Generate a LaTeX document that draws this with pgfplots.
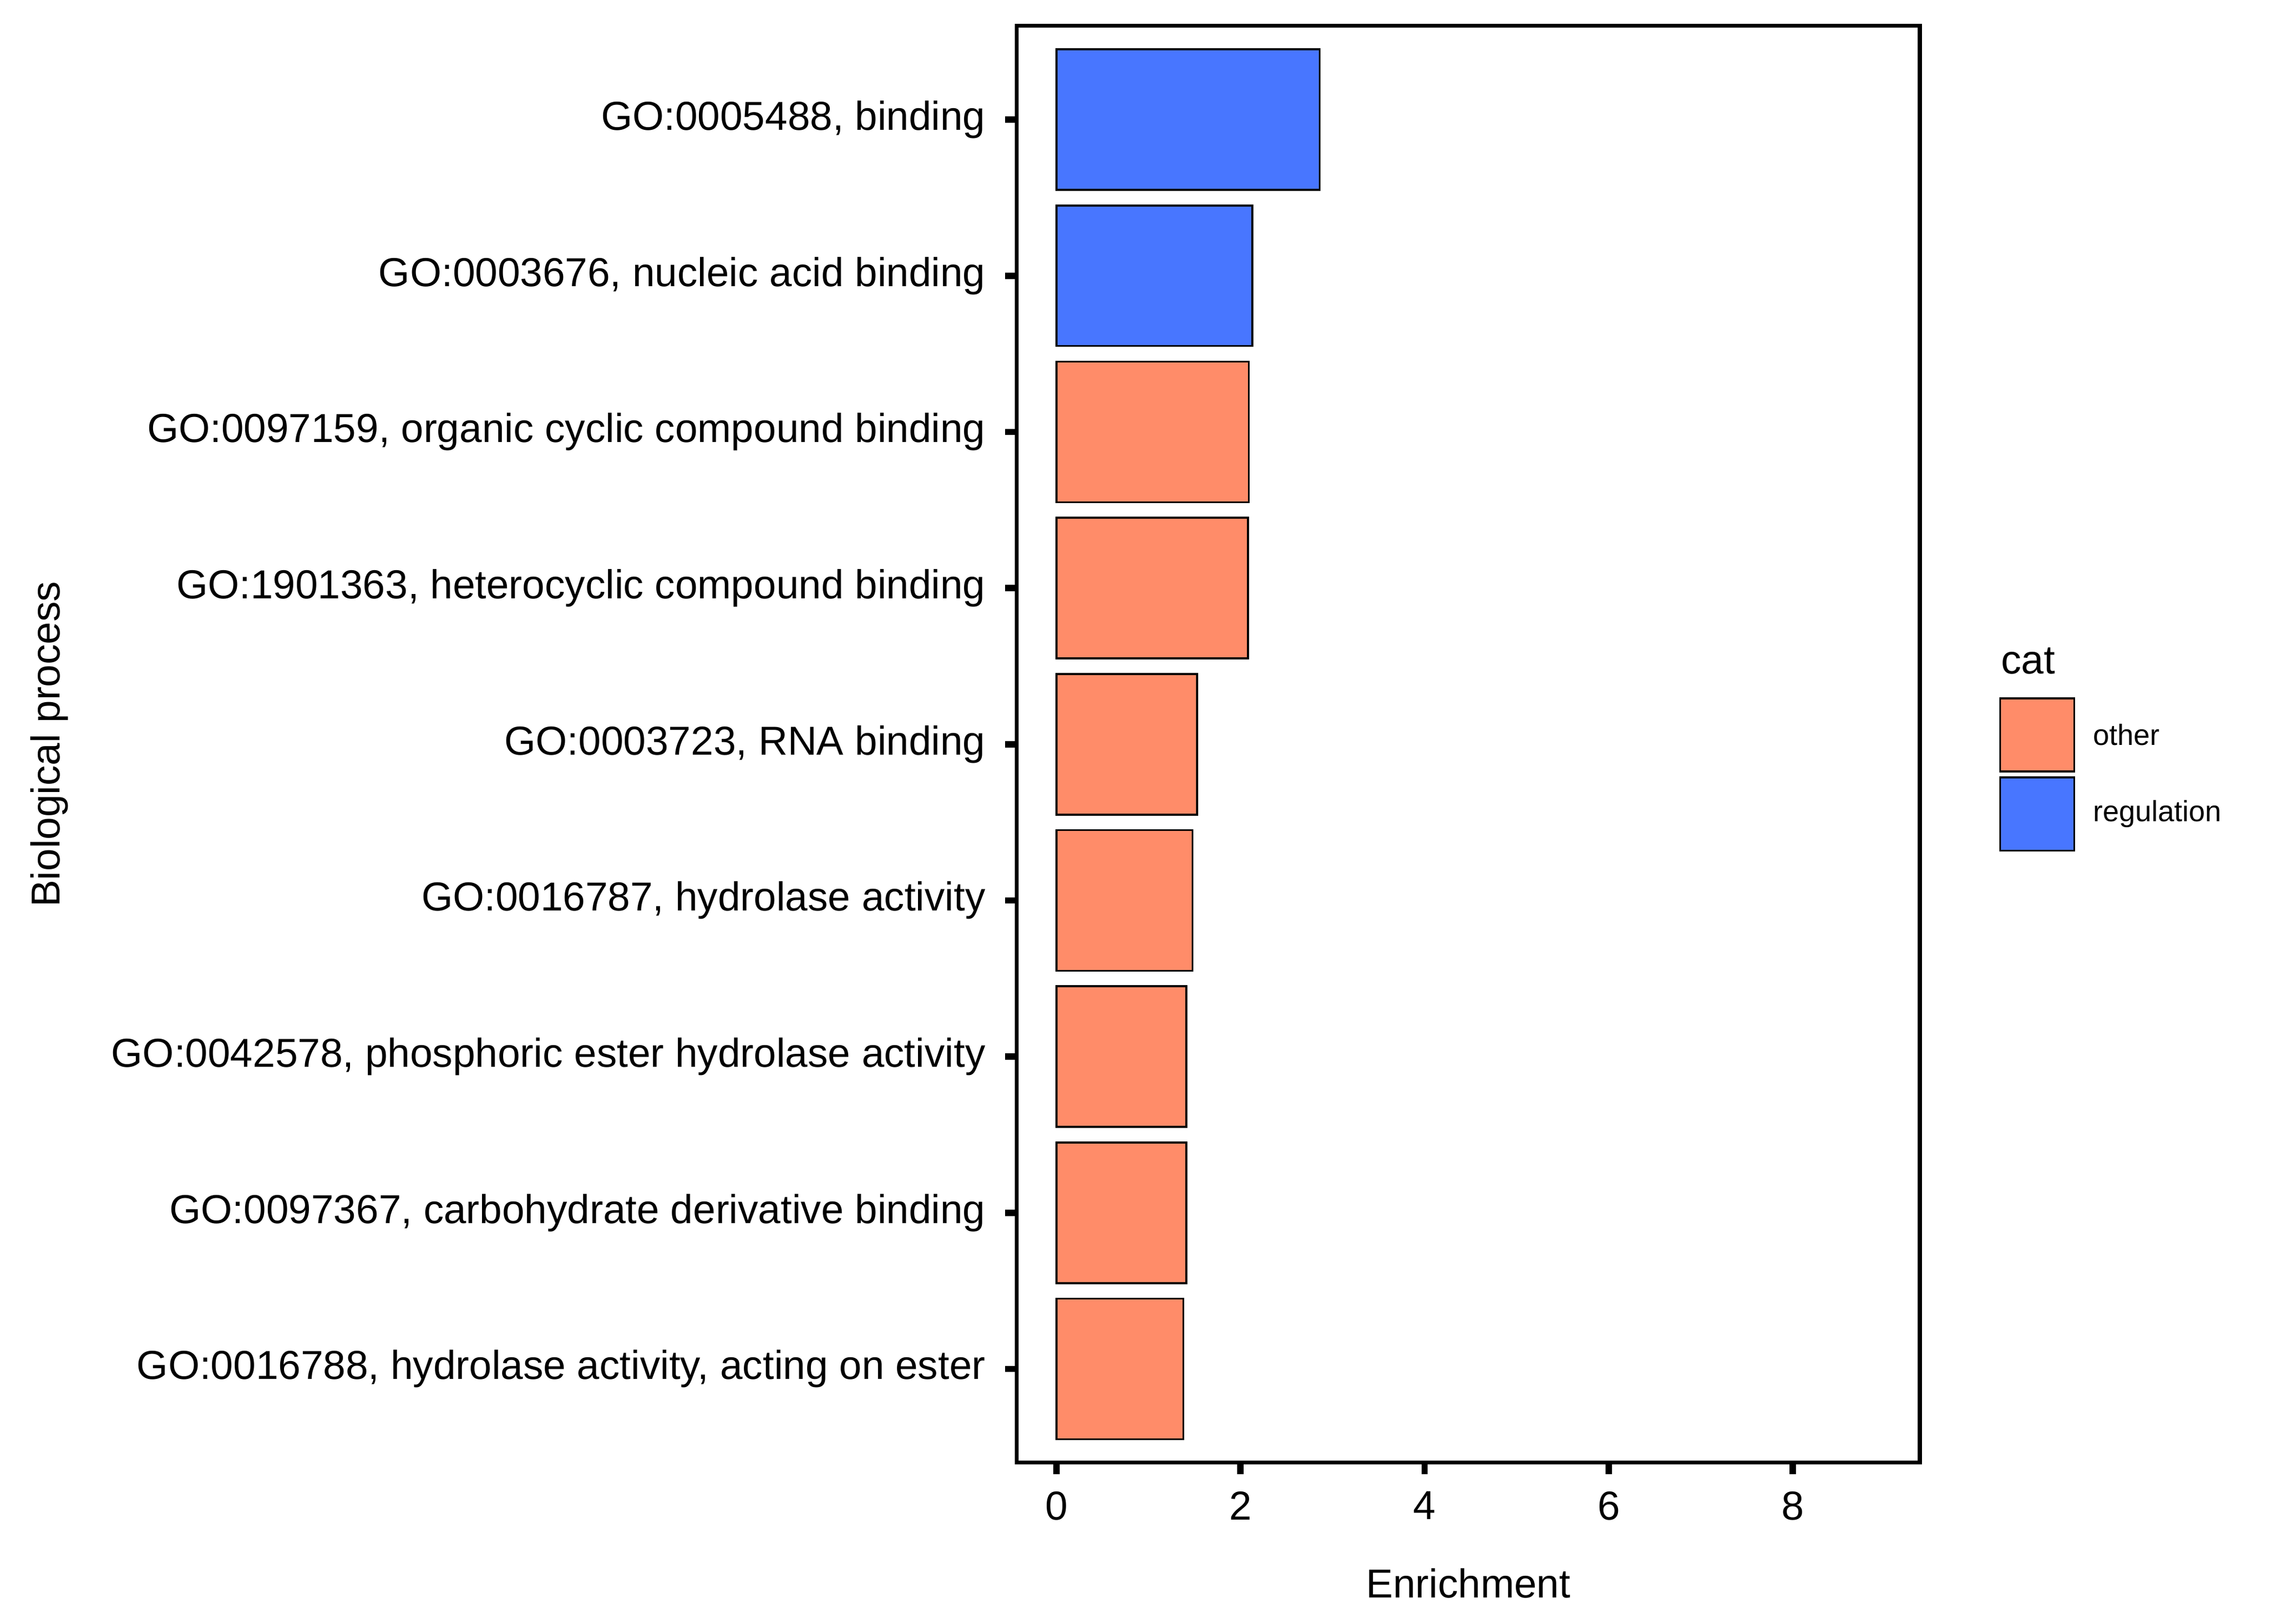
\documentclass[border=0pt]{standalone}
\usepackage{fontspec}
\setmainfont{Liberation Sans}
\usepackage{pgfplots}
\pgfplotsset{compat=1.18}
\definecolor{oth}{HTML}{FF8C69}
\definecolor{reg}{HTML}{4876FF}
\begin{document}
\begin{tikzpicture}
\begin{axis}[
  scale only axis, width=185.4pt, height=295pt,
  xmin=-0.43, xmax=9.38, ymin=0.4, ymax=9.6,
  xbar, bar width=0.9, bar shift=0pt,
  xtick={0,2,4,6,8}, ytick={1,...,9},
  yticklabels={{GO:0016788, hydrolase activity, acting on ester~},
   {GO:0097367, carbohydrate derivative binding},
   {GO:0042578, phosphoric ester hydrolase activity},
   {GO:0016787, hydrolase activity},
   {GO:0003723, RNA binding},
   {GO:1901363, heterocyclic compound binding},
   {GO:0097159, organic cyclic compound binding},
   {GO:0003676, nucleic acid binding},
   {GO:0005488, binding}},
  tick align=outside, tick pos=left, major tick length=2.4pt,
  tick style={line width=1.3pt, black},
  axis line style={line width=0.8pt},
  ticklabel style={font=\fontsize{8.3}{9}\selectfont},
  yticklabel style={xshift=-0.5pt},
  /pgf/number format/assume math mode=true,
  xlabel={Enrichment}, ylabel={Biological process},
  label style={font=\fontsize{8.3}{9}\selectfont},
  xlabel style={yshift=-3pt}, ylabel style={yshift=2pt},
  clip=false,
]
\addplot[fill=oth, draw=black, line width=0.4pt] coordinates {(1.38,1) (1.41,2) (1.41,3) (1.48,4) (1.53,5) (2.08,6) (2.09,7)};
\addplot[fill=reg, draw=black, line width=0.4pt] coordinates {(2.13,8) (2.86,9)};
\node[anchor=south west, font=\fontsize{8.3}{9}\selectfont, inner sep=0pt] at (rel axis cs:1.089,0.548) {cat};
\filldraw[fill=oth, draw=black, line width=0.4pt] (rel axis cs:1.089,0.481) rectangle (rel axis cs:1.171,0.532);
\filldraw[fill=reg, draw=black, line width=0.4pt] (rel axis cs:1.089,0.426) rectangle (rel axis cs:1.171,0.477);
\node[anchor=west, font=\fontsize{6}{7}\selectfont, inner sep=0pt] at (rel axis cs:1.191,0.5065) {other};
\node[anchor=west, font=\fontsize{6}{7}\selectfont, inner sep=0pt] at (rel axis cs:1.191,0.4515) {regulation};
\path (rel axis cs:-1.126,-0.112) rectangle (rel axis cs:1.39,1.018);
\end{axis}
\end{tikzpicture}
\end{document}
